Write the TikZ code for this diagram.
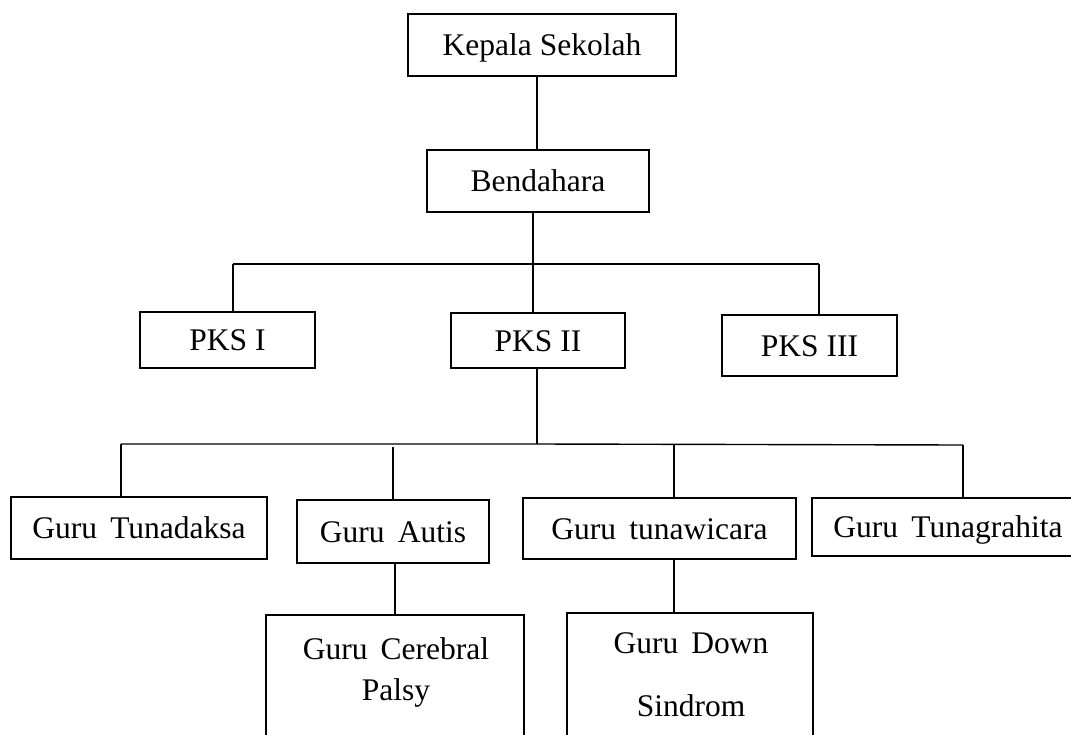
\documentclass[tikz,border=0pt]{standalone}
\usepackage{fontspec}
\setmainfont{Liberation Serif}
\tikzset{
  box/.style={draw, rectangle, line width=2.2pt, inner sep=0pt, text height=21pt, text depth=0pt, font=\fontsize{31.5}{37}\selectfont},
  conn/.style={line width=1.4pt},
  lbl/.style={inner sep=0pt, anchor=base, font=\fontsize{31.5}{37}\selectfont}
}
\newcommand{\wsp}{\hspace{0.42em}}
\begin{document}
\begin{tikzpicture}[x=1pt,y=-1pt]
\useasboundingbox (0,0) rectangle (1071,734);
\clip (0,0) rectangle (1071,734);
% boxes
\node[box, minimum width=268pt, minimum height=62pt] (kepala) at (542,45) {Kepala Sekolah};
\node[box, minimum width=222pt, minimum height=62pt] (bendahara) at (538,181) {Bendahara};
\node[box, minimum width=175pt, minimum height=56pt] (pks1) at (227.5,340) {PKS I};
\node[box, minimum width=174pt, minimum height=55pt] (pks2) at (538,340.5) {PKS II};
\node[box, minimum width=175pt, minimum height=61pt] (pks3) at (809.5,345.5) {PKS III};
\node[box, minimum width=256pt, minimum height=62pt] (tunadaksa) at (139,528) {Guru\wsp Tunadaksa};
\node[box, minimum width=192pt, minimum height=63pt] (autis) at (393,531.5) {Guru\wsp Autis};
\node[box, minimum width=273pt, minimum height=61pt] (tunawicara) at (659.5,528.5) {Guru\wsp tunawicara};
\node[box, minimum width=272pt, minimum height=58pt] (tunagrahita) at (948,527) {Guru\wsp Tunagrahita};
\node[box, minimum width=258pt, minimum height=160pt] (cerebral) at (395,695) {};
\node[box, minimum width=246pt, minimum height=162pt] (down) at (690,694) {};
% texts of the tall boxes
\node[lbl] (cer1) at (396,659) {Guru\wsp Cerebral};
\node[lbl] (cer2) at (396,700) {Palsy};
\node[lbl] (dwn1) at (691,653) {Guru\wsp Down};
\node[lbl] (dwn2) at (691,716) {Sindrom};
% junction coordinates
\coordinate (kb) at (537,0);
\coordinate (hA) at (533,264);
\coordinate (hL) at (233,264);
\coordinate (hR) at (819,264);
\coordinate (gA) at (537,444);
\coordinate (gL) at (121,444);
\coordinate (gR) at (963,445);
\coordinate (gB) at (393,447);
\coordinate (gC) at (674,445);
\coordinate (cb) at (395,0);
% connectors
\draw[conn] (kepala.south -| kb) -- (bendahara.north -| kb);
\draw[conn] (bendahara.south -| hA) -- (hA);
\draw[conn] (hL) -- (hR);
\draw[conn] (hL) -- (pks1.north -| hL);
\draw[conn] (hA) -- (pks2.north -| hA);
\draw[conn] (hR) -- (pks3.north -| hR);
\draw[conn] (pks2.south -| gA) -- (gA);
\draw[conn] (gL) -- (gA) -- (gR);
\draw[conn] (gL) -- (tunadaksa.north -| gL);
\draw[conn] (gB) -- (autis.north -| gB);
\draw[conn] (gC) -- (tunawicara.north -| gC);
\draw[conn] (gR) -- (tunagrahita.north -| gR);
\draw[conn] (autis.south -| cb) -- (cerebral.north -| cb);
\draw[conn] (tunawicara.south -| gC) -- (down.north -| gC);
\end{tikzpicture}
\end{document}
